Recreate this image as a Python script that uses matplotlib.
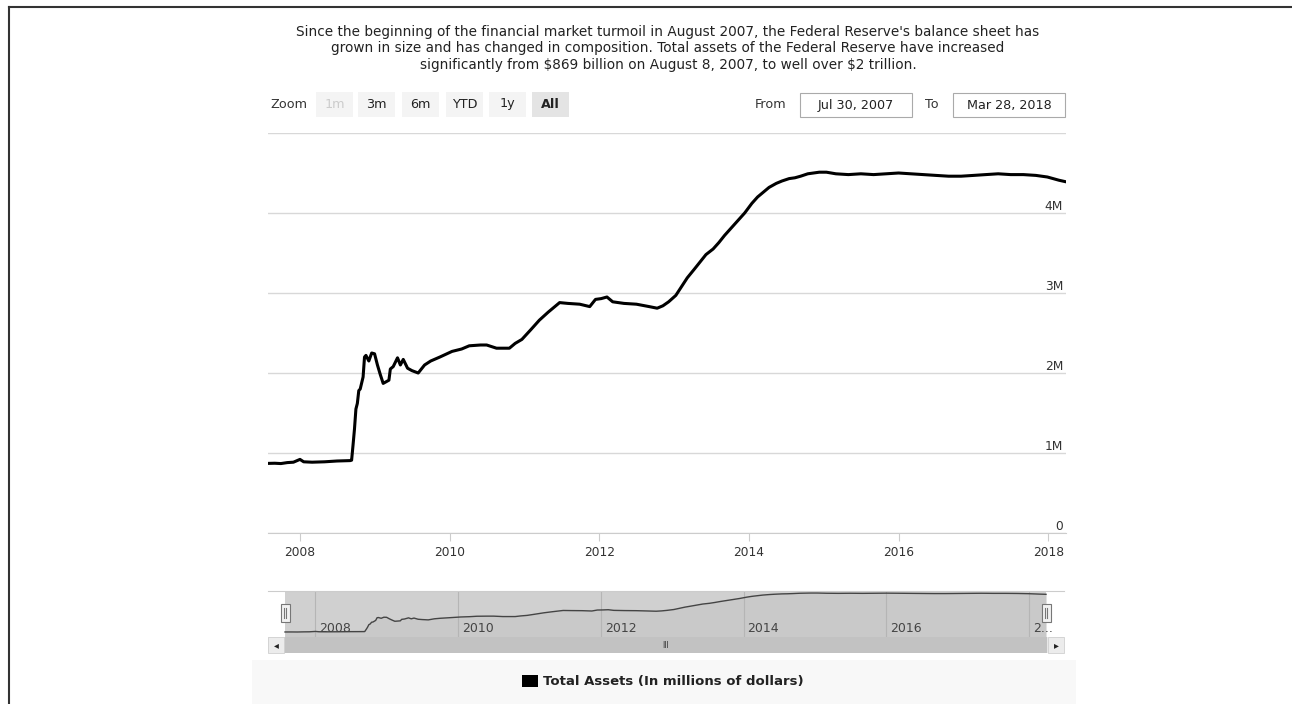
import matplotlib
matplotlib.use('Agg')
import matplotlib.pyplot as plt
import matplotlib.dates as mdates
from matplotlib.patches import Rectangle
import pandas as pd

# total assets, millions of dollars
dates = [
    '2007-07-30', '2007-09-01', '2007-10-01', '2007-11-01', '2007-12-01', '2008-01-02',
    '2008-01-20', '2008-03-01', '2008-05-01', '2008-07-01', '2008-09-03', '2008-09-10',
    '2008-09-17', '2008-09-24', '2008-10-01', '2008-10-08', '2008-10-15', '2008-10-22',
    '2008-11-05', '2008-11-12', '2008-11-19', '2008-12-03', '2008-12-17', '2008-12-31',
    '2009-01-14', '2009-01-28', '2009-02-11', '2009-02-25', '2009-03-11', '2009-03-18',
    '2009-04-01', '2009-04-22', '2009-05-06', '2009-05-20', '2009-06-10', '2009-07-01',
    '2009-08-01', '2009-09-01', '2009-10-01', '2009-11-15', '2010-01-13', '2010-03-01',
    '2010-04-07', '2010-06-01', '2010-07-01', '2010-08-18', '2010-10-20', '2010-11-17',
    '2010-12-20', '2011-02-01', '2011-03-15', '2011-04-27', '2011-06-22', '2011-08-01',
    '2011-09-28', '2011-11-16', '2011-12-14', '2012-01-11', '2012-02-08', '2012-03-07',
    '2012-05-01', '2012-07-01', '2012-09-01', '2012-10-10', '2012-11-07', '2012-12-05',
    '2013-01-09', '2013-02-06', '2013-03-06', '2013-04-10', '2013-05-08', '2013-06-05',
    '2013-07-10', '2013-08-07', '2013-09-04', '2013-10-09', '2013-11-06', '2013-12-11',
    '2014-01-15', '2014-02-12', '2014-03-12', '2014-04-09', '2014-05-14', '2014-06-11',
    '2014-07-16', '2014-08-13', '2014-09-10', '2014-10-15', '2014-11-12', '2014-12-10',
    '2015-01-14', '2015-03-01', '2015-05-01', '2015-07-01', '2015-09-01', '2015-11-01',
    '2016-01-01', '2016-03-01', '2016-05-01', '2016-07-01', '2016-09-01', '2016-11-01',
    '2017-01-01', '2017-03-01', '2017-05-01', '2017-07-01', '2017-09-01', '2017-11-01',
    '2017-12-27', '2018-01-24', '2018-02-21', '2018-03-28',
]
assets = [
    870000, 872000, 868000, 880000, 885000, 920000,
    890000, 885000, 890000, 900000, 905000, 910000,
    1100000, 1300000, 1550000, 1620000, 1780000, 1800000,
    1950000, 2200000, 2220000, 2150000, 2250000, 2240000,
    2100000, 1980000, 1870000, 1890000, 1910000, 2050000,
    2080000, 2190000, 2100000, 2170000, 2060000, 2030000,
    2000000, 2100000, 2150000, 2200000, 2270000, 2300000,
    2340000, 2350000, 2350000, 2310000, 2310000, 2370000,
    2420000, 2540000, 2660000, 2760000, 2880000, 2870000,
    2860000, 2830000, 2920000, 2930000, 2950000, 2890000,
    2870000, 2860000, 2830000, 2810000, 2840000, 2890000,
    2970000, 3080000, 3190000, 3300000, 3390000, 3480000,
    3550000, 3630000, 3720000, 3820000, 3900000, 4000000,
    4120000, 4200000, 4260000, 4320000, 4370000, 4400000,
    4430000, 4440000, 4460000, 4490000, 4500000, 4510000,
    4510000, 4490000, 4480000, 4490000, 4480000, 4490000,
    4500000, 4490000, 4480000, 4470000, 4460000, 4460000,
    4470000, 4480000, 4490000, 4480000, 4480000, 4470000,
    4450000, 4430000, 4410000, 4390000,
]
ytick_vals = [0, 1000000, 2000000, 3000000, 4000000, 5000000]
ytick_labels = ['0', '1M', '2M', '3M', '4M', '']
xtick_years = [2008, 2010, 2012, 2014, 2016, 2018]
zoom_buttons = ['1m', '3m', '6m', 'YTD', '1y', 'All']

title = ("Since the beginning of the financial market turmoil in August 2007, the Federal Reserve's balance sheet has\n"
         "grown in size and has changed in composition. Total assets of the Federal Reserve have increased\n"
         "significantly from \\$869 billion on August 8, 2007, to well over \\$2 trillion.")

plt.rcParams['font.family'] = ['DejaVu Sans']
W, H = 1292, 704
fig = plt.figure(figsize=(W / 100, H / 100), dpi=100)


def fx(px):
    return px / W


def fy(py):
    return 1 - py / H


t = pd.to_datetime(dates)
v = pd.Series(assets, index=t)
start, end = t[0], t[-1]

# page frame
fig.add_artist(plt.Line2D([fx(9), fx(9)], [fy(7), 0], color='#333333', lw=1.5))
fig.add_artist(plt.Line2D([fx(9), 1], [fy(7), fy(7)], color='#333333', lw=1.5))
# light legend band
fig.add_artist(Rectangle((fx(252), 0), fx(1076) - fx(252), fy(660), color='#f8f8f8', lw=0, zorder=0))

fig.text(fx(668), fy(25), title, ha='center', va='top', fontsize=9.8, linespacing=1.22, color='#222222')

# range selector
fig.text(fx(270), fy(104), 'Zoom', ha='left', va='center', fontsize=9.2, color='#333333')
bx = [316, 358, 402, 446, 489, 532]
for i, lab in enumerate(zoom_buttons):
    face = '#e4e4e4' if lab == 'All' else '#f4f4f4'
    col = '#cccccc' if lab == '1m' else '#222222'
    fig.add_artist(Rectangle((fx(bx[i]), fy(117)), fx(37), fy(92) - fy(117), color=face, lw=0))
    fig.text(fx(bx[i] + 18.5), fy(104), lab, ha='center', va='center', fontsize=9.2, color=col,
             fontweight='bold' if lab == 'All' else 'normal')
fig.text(fx(755), fy(104), 'From', ha='left', va='center', fontsize=9.2, color='#333333')
fig.text(fx(925), fy(104), 'To', ha='left', va='center', fontsize=9.2, color='#333333')
for x0, txt in [(800, start.strftime('%b %d, %Y')), (953, end.strftime('%b %d, %Y'))]:
    fig.add_artist(Rectangle((fx(x0), fy(117)), fx(112), fy(93) - fy(117), facecolor='white',
                             edgecolor='#aaaaaa', lw=0.8))
    fig.text(fx(x0 + 56), fy(105), txt, ha='center', va='center', fontsize=9.2, color='#222222')

# main chart
ax = fig.add_axes([fx(268), fy(533), fx(1066) - fx(268), fy(133) - fy(533)])
ax.plot(v.index, v.values, color='black', lw=2.2, solid_joinstyle='round')
ax.set_xlim(start, end)
ax.set_ylim(0, 5000000)
ax.set_yticks(ytick_vals)
ax.set_yticklabels(ytick_labels)
ax.grid(axis='y', color='#d8d8d8', lw=1)
ax.set_axisbelow(True)
for s in ['top', 'left', 'right']:
    ax.spines[s].set_visible(False)
ax.spines['bottom'].set_color('#cccccc')
ax.tick_params(axis='y', length=0, labelleft=False, labelright=True, pad=-2, labelsize=8.8,
               labelcolor='#333333')
for lab in ax.get_yticklabels():
    lab.set_ha('right')
    lab.set_va('bottom')
ax.set_xticks([pd.Timestamp(f'{y}-01-01') for y in xtick_years])
ax.set_xticklabels([str(y) for y in xtick_years])
ax.tick_params(axis='x', length=6, color='#cccccc', labelsize=8.8, labelcolor='#333333', pad=3)

# navigator
nav = fig.add_axes([fx(268), fy(637), fx(1064) - fx(268), fy(591) - fy(637)])
pad_l = pd.Timedelta(days=87)
pad_r = pd.Timedelta(days=92)
nav.set_xlim(start - pad_l, end + pad_r)
nav.set_ylim(400000, 4700000)
nav.axvspan(start, end, color='#d0d0d0', lw=0, zorder=0)
nav.fill_between(v.index, v.values, 400000, color='#c9c9c9', lw=0, zorder=1)
nav.plot(v.index, v.values, color='#444444', lw=1, zorder=2)
for y in xtick_years:
    d = pd.Timestamp(f'{y}-01-01')
    nav.axvline(d, color='#b5b5b5', lw=0.8, zorder=1.5)
    lab = str(y) if y < 2018 else '2...'
    nav.text(d + pd.Timedelta(days=20), 600000, lab, fontsize=9, color='#444444', va='bottom', ha='left',
             zorder=3)
nav.set_xticks([])
nav.set_yticks([])
for s in ['left', 'right', 'bottom']:
    nav.spines[s].set_visible(False)
nav.spines['top'].set_color('#cccccc')
for d in [start, end]:
    hx = nav.transData.transform((mdates.date2num(d), 0))[0]
    hxf = hx / fig.dpi / fig.get_figwidth()
    fig.add_artist(Rectangle((hxf - fx(4.5), fy(622)), fx(9), fy(604) - fy(622), facecolor='#f2f2f2',
                             edgecolor='#777777', lw=0.8, zorder=5))
    fig.add_artist(plt.Line2D([hxf - fx(1.3)] * 2, [fy(618), fy(608)], color='#777777', lw=0.8, zorder=6))
    fig.add_artist(plt.Line2D([hxf + fx(1.3)] * 2, [fy(618), fy(608)], color='#777777', lw=0.8, zorder=6))

# scrollbar
fig.add_artist(Rectangle((fx(268), fy(653)), fx(796), fy(637) - fy(653), color='#e8e8e8', lw=0))
fig.add_artist(Rectangle((fx(284), fy(653)), fx(763), fy(637) - fy(653), color='#c2c2c2', lw=0))
fig.add_artist(Rectangle((fx(268), fy(653)), fx(16), fy(637) - fy(653), facecolor='#ececec',
                         edgecolor='#d0d0d0', lw=0.6))
fig.add_artist(Rectangle((fx(1048), fy(653)), fx(16), fy(637) - fy(653), facecolor='#ececec',
                         edgecolor='#d0d0d0', lw=0.6))
fig.text(fx(276), fy(645), '◂', ha='center', va='center', fontsize=7, color='#222222')
fig.text(fx(1056), fy(645), '▸', ha='center', va='center', fontsize=7, color='#222222')
fig.text(fx(666), fy(645), 'III', ha='center', va='center', fontsize=5.5, color='#333333')

# legend
fig.add_artist(Rectangle((fx(522), fy(687)), fx(16), fy(675) - fy(687), color='black', lw=0))
fig.text(fx(543), fy(681), 'Total Assets (In millions of dollars)', ha='left', va='center', fontsize=9.5,
         fontweight='bold', color='#222222')

fig.savefig('out.png', dpi=100)
